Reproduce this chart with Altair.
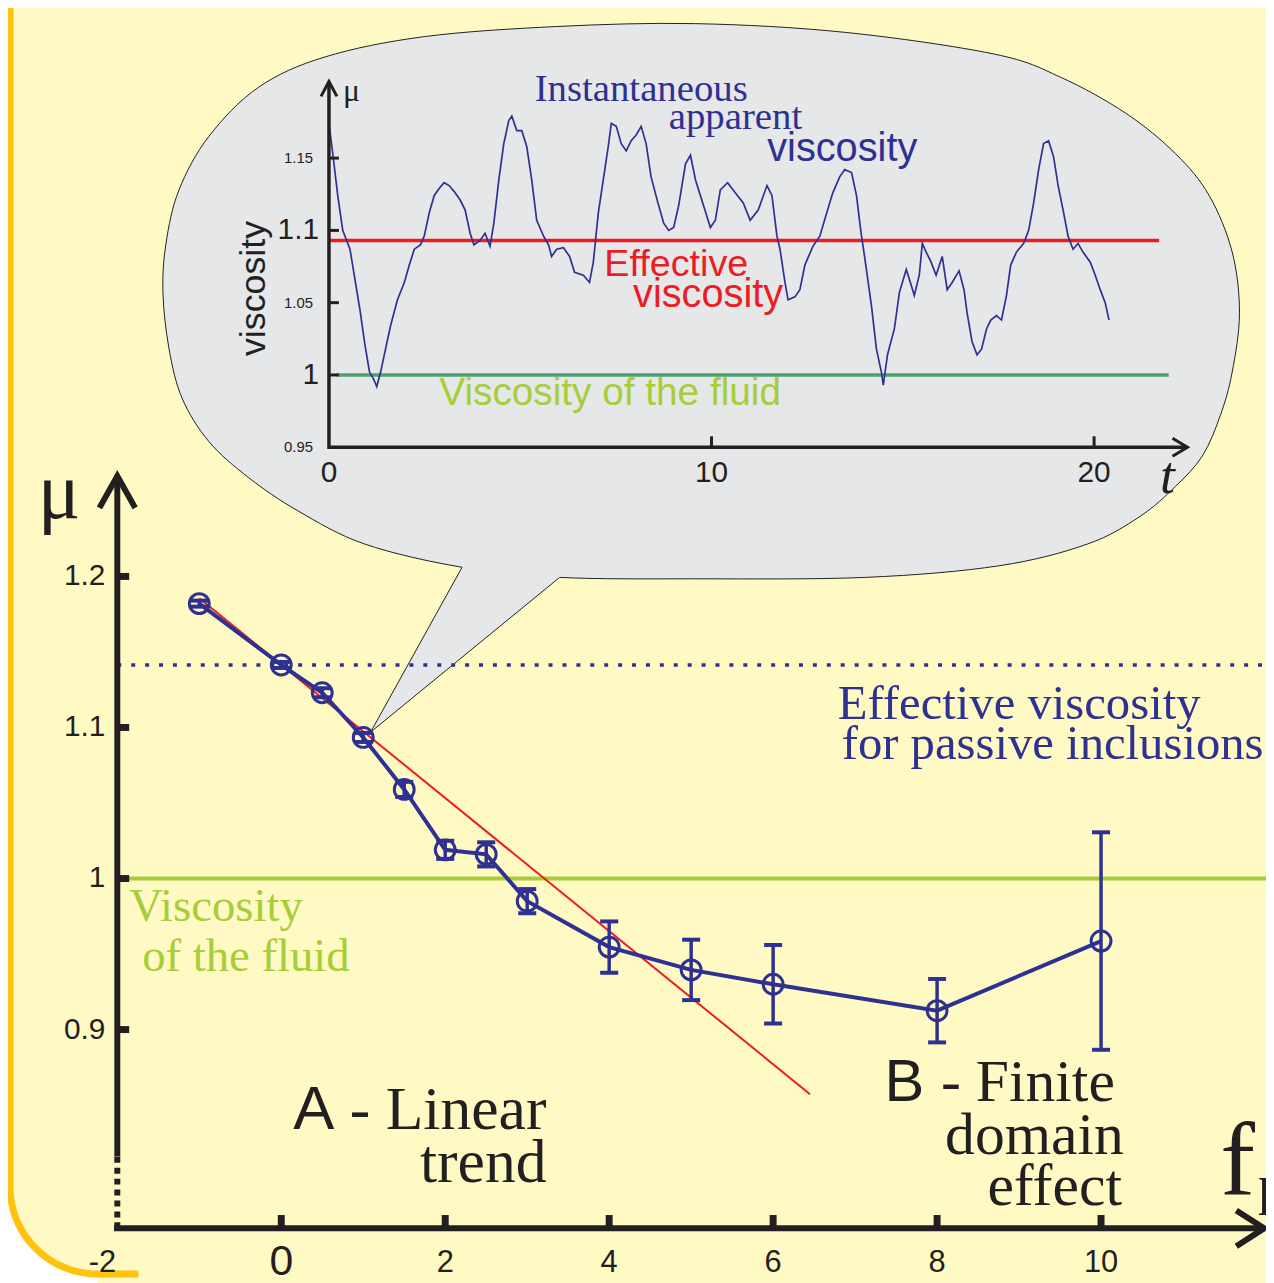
import altair as alt
import pandas as pd
import numpy as np

# ---------------- data ----------------
# main plot: apparent viscosity vs f
f_vals = [-1, 0, 0.5, 1, 1.5, 2, 2.5, 3, 4, 5, 6, 8, 10]
mu_vals = [1.182, 1.1414, 1.123, 1.0934, 1.059, 1.019, 1.016, 0.985, 0.9546, 0.9395, 0.930, 0.9125, 0.9586]
mu_err = [0.002, 0.002, 0.003, 0.003, 0.005, 0.006, 0.008, 0.008, 0.017, 0.020, 0.026, 0.021, 0.072]

fit_f = [-1.0, 6.45]
fit_mu = [1.1855, 0.8572]

passive_mu = 1.1414
fluid_mu = 1.0

# inset: instantaneous apparent viscosity vs t
t_vals = [0.0, 0.10, 0.23, 0.36, 0.55, 0.68, 0.81, 0.94, 1.06, 1.17, 1.25, 1.35, 1.48, 1.61, 1.79,
          1.97, 2.10, 2.23, 2.39, 2.49, 2.62, 2.75, 2.88, 3.01, 3.14, 3.27, 3.43, 3.56, 3.69, 3.79,
          3.95, 4.08, 4.21, 4.31, 4.44, 4.57, 4.70, 4.78, 4.91, 5.04, 5.17, 5.30, 5.43, 5.61, 5.74,
          5.82, 5.95, 6.13, 6.29, 6.42, 6.65, 6.81, 6.91, 7.04, 7.17, 7.30, 7.38, 7.51, 7.64, 7.77,
          7.90, 8.03, 8.16, 8.29, 8.42, 8.60, 8.75, 8.88, 9.01, 9.14, 9.32, 9.45, 9.58, 9.77, 9.97,
          10.10, 10.23, 10.42, 10.62, 10.83, 11.01, 11.22, 11.45, 11.58, 11.71, 11.79, 11.92, 12.00,
          12.18, 12.31, 12.44, 12.65, 12.83, 13.01, 13.17, 13.35, 13.48, 13.66, 13.79, 13.90, 14.00,
          14.18, 14.31, 14.44, 14.49, 14.60, 14.78, 14.91, 15.09, 15.22, 15.30, 15.43, 15.51, 15.61,
          15.74, 15.87, 16.03, 16.16, 16.29, 16.47, 16.60, 16.68, 16.81, 16.94, 17.06, 17.19, 17.30,
          17.45, 17.58, 17.71, 17.82, 17.97, 18.16, 18.29, 18.42, 18.55, 18.68, 18.81, 18.94, 19.06,
          19.19, 19.32, 19.45, 19.58, 19.71, 19.90, 20.03, 20.16, 20.29, 20.39]
visc_vals = [1.174, 1.153, 1.124, 1.100, 1.087, 1.066, 1.045, 1.021, 1.002, 0.997, 0.992, 1.002, 1.018,
             1.034, 1.052, 1.064, 1.076, 1.087, 1.090, 1.096, 1.112, 1.124, 1.129, 1.133, 1.131, 1.127,
             1.121, 1.114, 1.098, 1.090, 1.093, 1.098, 1.089, 1.105, 1.135, 1.160, 1.176, 1.179, 1.169,
             1.169, 1.158, 1.135, 1.107, 1.096, 1.090, 1.082, 1.087, 1.088, 1.082, 1.071, 1.069, 1.064,
             1.078, 1.112, 1.135, 1.158, 1.174, 1.172, 1.160, 1.155, 1.162, 1.166, 1.172, 1.160, 1.137,
             1.119, 1.105, 1.100, 1.102, 1.117, 1.146, 1.152, 1.135, 1.119, 1.102, 1.107, 1.128, 1.133,
             1.126, 1.119, 1.107, 1.114, 1.131, 1.124, 1.096, 1.087, 1.064, 1.052, 1.054, 1.059, 1.076,
             1.089, 1.096, 1.112, 1.126, 1.137, 1.142, 1.140, 1.124, 1.100, 1.082, 1.048, 1.018, 1.002,
             0.993, 1.014, 1.032, 1.057, 1.073, 1.062, 1.055, 1.069, 1.091, 1.085, 1.078, 1.069, 1.082,
             1.059, 1.064, 1.072, 1.059, 1.043, 1.023, 1.014, 1.018, 1.032, 1.038, 1.041, 1.038, 1.055,
             1.076, 1.085, 1.091, 1.100, 1.119, 1.142, 1.160, 1.162, 1.151, 1.131, 1.114, 1.096, 1.087,
             1.091, 1.085, 1.078, 1.069, 1.059, 1.050, 1.038]
effective_mu = 1.093
inset_fluid_mu = 1.0

# speech bubble outline, in inset units (t, mu)
bubble_t = [5.95, 9.58, 13.48, 17.38, 19.12, 20.83, 22.13, 23.01, 23.61, 23.80, 23.61, 23.30, 22.83,
            22.13, 21.19, 19.82, 17.51, 14.03, 9.58, 6.03, 3.48, 0.94, -0.81, -2.10, -3.14, -3.84,
            -4.18, -4.34, -4.26, -3.92, -3.14, -1.84, -0.10, 2.49]
bubble_mu = [1.241, 1.243, 1.237, 1.222, 1.206, 1.181, 1.153, 1.124, 1.085, 1.043, 1.002, 0.972, 0.944,
             0.923, 0.902, 0.883, 0.868, 0.860, 0.859, 0.860, 0.867, 0.883, 0.906, 0.929, 0.954, 0.984,
             1.018, 1.057, 1.091, 1.128, 1.165, 1.199, 1.220, 1.234]
tail_t = [3.48, 1.09, 6.03]
tail_mu = [0.867, 0.753, 0.860]

BLUE = "#2E3192"
RED = "#ED1C24"
LGREEN = "#A6CE39"
DGREEN = "#4E9F72"
BLACK = "#231F20"
GRAY = "#E6E7E8"
YELLOW = "#FFF9C4"
ORANGE = "#FFC20E"
SERIF = "Liberation Serif"
SANS = "Liberation Sans"

MX = dict(domain=[-2, 10], range=[110, 1100], nice=False, zero=False)
MY = dict(domain=[0.9, 1.2], range=[1024, 568], nice=False, zero=False)
IX = dict(domain=[0, 20], range=[323, 1093], nice=False, zero=False)
IY = dict(domain=[0.95, 1.15], range=[438, 147], nice=False, zero=False)


def xy(sx, sy, xf="x", yf="y"):
    return dict(
        x=alt.X(f"{xf}:Q", scale=alt.Scale(**sx), axis=None),
        y=alt.Y(f"{yf}:Q", scale=alt.Scale(**sy), axis=None),
    )


def path(xs, ys, sx, sy, **mk):
    df = pd.DataFrame({"x": xs, "y": ys, "i": list(range(len(xs)))})
    return alt.Chart(df).mark_line(**mk).encode(order="i:Q", **xy(sx, sy))


def segs(rows, sx, sy, **mk):
    df = pd.DataFrame(rows, columns=["x", "y", "x2", "y2"])
    return alt.Chart(df).mark_rule(**mk).encode(x2="x2:Q", y2="y2:Q", **xy(sx, sy))


def label(text, x, y, sx, sy, baseline="alphabetic", **mk):
    df = pd.DataFrame({"x": [x], "y": [y], "label": [text]})
    return alt.Chart(df).mark_text(baseline=baseline, **mk).encode(text="label:N", **xy(sx, sy))


layers = []

# ---- panel corner (rounded orange border) ----
cx, cy, rx, ry = -2.2424, 0.79605, 1.0667, 0.05789
ang = np.radians(np.linspace(180, 270, 19))
arc_x = list(cx + rx * np.cos(ang))
arc_y = list(cy + ry * np.sin(ang))
layers.append(path([cx - rx - 0.3] + arc_x + [cx, cx - rx - 0.3],
                   [cy] + arc_y + [cy - ry - 0.1, cy - ry - 0.1], MX, MY,
                   fill="white", stroke="white", strokeWidth=0))
layers.append(path([cx - rx] + arc_x + [cx + 0.5], [1.6] + arc_y + [cy - ry], MX, MY,
                   stroke=ORANGE, strokeWidth=7))

# ---- speech bubble ----
layers.append(path(bubble_t, bubble_mu, IX, IY, fill=GRAY, stroke=BLACK, strokeWidth=1,
                   interpolate="cardinal-closed"))
layers.append(path([tail_t[0], tail_t[1], tail_t[2], 5.9, 3.6], [tail_mu[0], tail_mu[1], tail_mu[2], 0.876, 0.882],
                   IX, IY, fill=GRAY, stroke=GRAY, strokeWidth=0.5))
layers.append(segs([[tail_t[0], tail_mu[0], tail_t[1], tail_mu[1]],
                    [tail_t[2], tail_mu[2], tail_t[1], tail_mu[1]]], IX, IY, color=BLACK, strokeWidth=1))

# ---- inset plot ----
layers.append(segs([[0, effective_mu, 21.7, effective_mu]], IX, IY, color=RED, strokeWidth=3.5))
layers.append(segs([[0.2, inset_fluid_mu, 21.95, inset_fluid_mu]], IX, IY, color=DGREEN, strokeWidth=3.5))
layers.append(path(t_vals, visc_vals, IX, IY, color=BLUE, strokeWidth=1.7))
# inset axes
layers.append(segs([[0, 0.9488, 0, 1.203], [0, 0.95, 22.44, 0.95]], IX, IY, color=BLACK, strokeWidth=3.5))
layers.append(path([-0.208, 0, 0.208], [1.1927, 1.203, 1.1927], IX, IY, color=BLACK, strokeWidth=3, strokeJoin="miter"))
layers.append(path([22.05, 22.44, 22.05], [0.9562, 0.95, 0.9438], IX, IY, color=BLACK, strokeWidth=3, strokeJoin="miter"))
layers.append(segs([[0, v, 0.26, v] for v in [1.0, 1.05, 1.1, 1.15]] +
                   [[v, 0.95, v, 0.9576] for v in [10, 20]], IX, IY, color=BLACK, strokeWidth=3))
for v, txt in [(1.15, "1.15"), (1.05, "1.05"), (0.95, "0.95")]:
    layers.append(label(txt, -0.4156, v, IX, IY, font=SANS, fontSize=15, align="right", baseline="middle", color=BLACK))
for v, txt in [(1.1, "1.1"), (1.0, "1")]:
    layers.append(label(txt, -0.26, v, IX, IY, font=SANS, fontSize=30, align="right", baseline="middle", color=BLACK))
for v, txt in [(0, "0"), (10, "10"), (20, "20")]:
    layers.append(label(txt, v, 0.9258, IX, IY, font=SANS, fontSize=30, align="center", color=BLACK))
layers.append(label("t", 21.92, 0.9182, IX, IY, font=SERIF, fontSize=54, fontStyle="italic", align="center", color=BLACK))
layers.append(label("\u03bc", 0.364, 1.1897, IX, IY, font=SERIF, fontSize=32, align="left", color=BLACK))
layers.append(label("viscosity", -1.948, 1.0598, IX, IY, font=SANS, fontSize=36, angle=270, align="center",
                    baseline="middle", color=BLACK))
layers.append(label("Instantaneous", 5.377, 1.1897, IX, IY, font=SERIF, fontSize=39, align="left", color=BLUE))
layers.append(label("apparent", 8.883, 1.1704, IX, IY, font=SERIF, fontSize=39, align="left", color=BLUE))
layers.append(label("viscosity", 11.455, 1.1478, IX, IY, font=SANS, fontSize=40, align="left", color=BLUE))
layers.append(label("Effective", 7.195, 1.0687, IX, IY, font=SANS, fontSize=38, align="left", color=RED))
layers.append(label("viscosity", 7.948, 1.0467, IX, IY, font=SANS, fontSize=40, align="left", color=RED))
layers.append(label("Viscosity of the fluid", 2.883, 0.9794, IX, IY, font=SANS, fontSize=39, align="left", color=LGREEN))

# ---- main plot reference lines ----
layers.append(segs([[-1.95, fluid_mu, 12.2, fluid_mu]], MX, MY, color=LGREEN, strokeWidth=4))
layers.append(segs([[-2, passive_mu, 12.2, passive_mu]], MX, MY, color=BLUE, strokeWidth=3.5, strokeDash=[4, 10]))
layers.append(path(fit_f, fit_mu, MX, MY, color=RED, strokeWidth=2))

# ---- main data ----
main_df = pd.DataFrame({"f": f_vals, "mu": mu_vals, "err": mu_err})
base = alt.Chart(main_df).transform_calculate(
    lo="datum.mu - datum.err", hi="datum.mu + datum.err",
    fl="datum.f - 0.11", fr="datum.f + 0.11")
layers.append(base.mark_line(color=BLUE, strokeWidth=4).encode(**xy(MX, MY, "f", "mu")))
layers.append(base.mark_rule(color=BLUE, strokeWidth=3.5).encode(
    y2="hi:Q", **xy(MX, MY, "f", "lo")))
layers.append(base.mark_rule(color=BLUE, strokeWidth=4).encode(x2="fr:Q", **xy(MX, MY, "fl", "lo")))
layers.append(base.mark_rule(color=BLUE, strokeWidth=4).encode(x2="fr:Q", **xy(MX, MY, "fl", "hi")))
layers.append(base.mark_point(shape="circle", filled=False, size=400, strokeWidth=3, color=BLUE, opacity=1).encode(
    **xy(MX, MY, "f", "mu")))

# ---- main axes ----
layers.append(segs([[-2, 0.816, -2, 1.2664], [-2.04, 0.7684, 11.99, 0.7684]], MX, MY, color=BLACK, strokeWidth=6))
layers.append(segs([[-2, 0.7684, -2, 0.816]], MX, MY, color=BLACK, strokeWidth=6, strokeDash=[6, 5]))
layers.append(path([-2.218, -2, -1.782], [1.2454, 1.2664, 1.2454], MX, MY, color=BLACK, strokeWidth=6, strokeJoin="miter"))
layers.append(path([11.65, 11.99, 11.65], [0.7802, 0.7684, 0.7566], MX, MY, color=BLACK, strokeWidth=6, strokeJoin="miter"))
layers.append(segs([[-2, v, -1.855, v] for v in [0.9, 1.0, 1.1, 1.2]] +
                   [[v, 0.7684, v, 0.7772] for v in [0, 2, 4, 6, 8, 10]], MX, MY, color=BLACK, strokeWidth=7))
for v, txt in [(1.2, "1.2"), (1.1, "1.1"), (1.0, "1"), (0.9, "0.9")]:
    layers.append(label(txt, -2.145, v, MX, MY, font=SANS, fontSize=30, align="right", baseline="middle", color=BLACK))
layers.append(label("-2", -2.18, 0.7394, MX, MY, font=SANS, fontSize=31, align="center", color=BLACK))
layers.append(label("0", 0, 0.7375, MX, MY, font=SANS, fontSize=43, align="center", color=BLACK))
for v in [2, 4, 6, 8, 10]:
    layers.append(label(str(v), v, 0.7394, MX, MY, font=SANS, fontSize=31, align="center", color=BLACK))
layers.append(label("\u03bc", -2.97, 1.2388, MX, MY, font=SERIF, fontSize=80, align="left", color=BLACK))
layers.append(label("f", 11.455, 0.7914, MX, MY, font=SERIF, fontSize=105, align="left", color=BLACK))
layers.append(label("p", 11.915, 0.7849, MX, MY, font=SERIF, fontSize=55, align="left", color=BLACK))

# ---- main annotations ----
layers.append(label("Effective viscosity", 6.788, 1.1053, MX, MY, font=SERIF, fontSize=49, align="left", color=BLUE))
layers.append(label("for passive inclusions", 6.836, 1.079, MX, MY, font=SERIF, fontSize=49, align="left", color=BLUE))
layers.append(label("Viscosity", -1.855, 0.9717, MX, MY, font=SERIF, fontSize=47, align="left", color=LGREEN))
layers.append(label("of the fluid", -1.697, 0.9388, MX, MY, font=SERIF, fontSize=47, align="left", color=LGREEN))
layers.append(label("A", 0.145, 0.8342, MX, MY, font=SANS, fontSize=62, align="left", color=BLACK))
layers.append(label("- Linear", 0.836, 0.8342, MX, MY, font=SERIF, fontSize=62, align="left", color=BLACK))
layers.append(label("trend", 3.236, 0.7993, MX, MY, font=SERIF, fontSize=62, align="right", color=BLACK))
layers.append(label("B", 7.358, 0.8526, MX, MY, font=SANS, fontSize=60, align="left", color=BLACK))
layers.append(label("- Finite", 8.048, 0.8526, MX, MY, font=SERIF, fontSize=60, align="left", color=BLACK))
layers.append(label("domain", 10.279, 0.8178, MX, MY, font=SERIF, fontSize=60, align="right", color=BLACK))
layers.append(label("effect", 10.255, 0.7836, MX, MY, font=SERIF, fontSize=60, align="right", color=BLACK))

chart = alt.layer(*layers).resolve_scale(x="independent", y="independent").properties(
    width=1266, height=1275, padding=0, autosize=alt.AutoSizeParams(type="none"),
    background=YELLOW,
).configure_view(stroke=None)

chart.save("out.html", embed_options={"renderer": "svg", "actions": False})
